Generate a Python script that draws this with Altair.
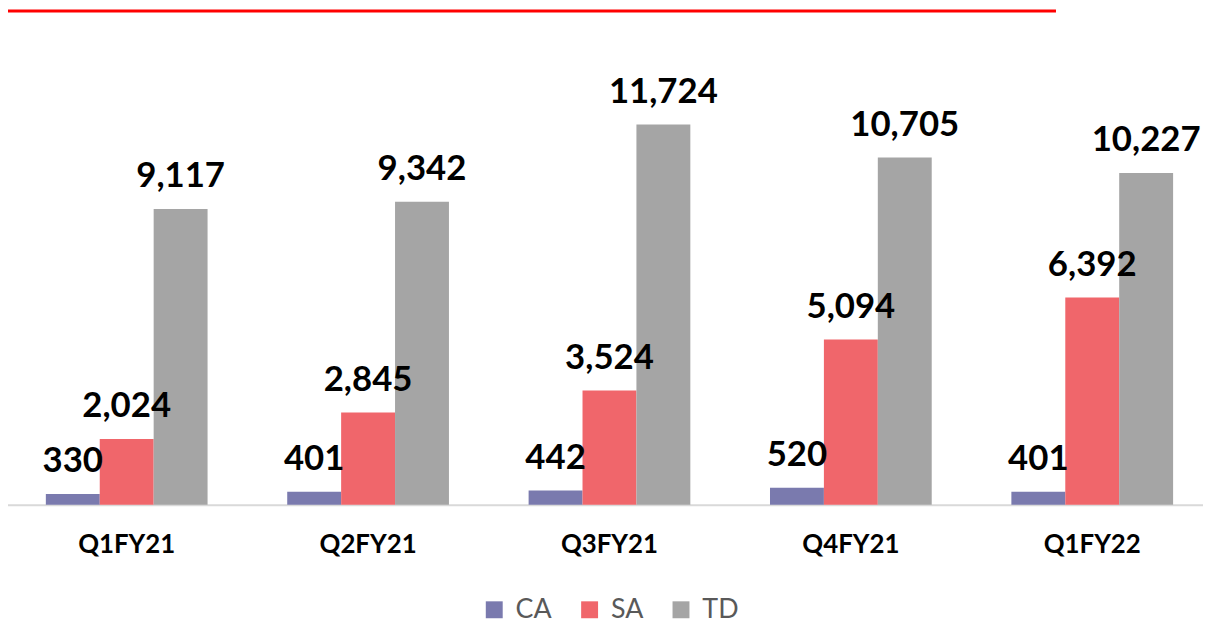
import altair as alt
import pandas as pd

quarters = ["Q1FY21", "Q2FY21", "Q3FY21", "Q4FY21", "Q1FY22"]
series = ["CA", "SA", "TD"]
ca = [330, 401, 442, 520, 401]
sa = [2024, 2845, 3524, 5094, 6392]
td = [9117, 9342, 11724, 10705, 10227]
colors = ["#7A7AAE", "#F0666B", "#A5A5A5"]

rows = []
for i, q in enumerate(quarters):
    for s, vals in zip(series, [ca, sa, td]):
        rows.append({"quarter": q, "series": s, "value": vals[i]})
df = pd.DataFrame(rows)

FONT = "Lato"

x = alt.X("quarter:N", sort=quarters, title=None,
          scale=alt.Scale(paddingInner=0.33, paddingOuter=0.165, range=[-2, 1213]),
          axis=alt.Axis(labelAngle=0, labelFont=FONT, labelFontSize=26, labelFontWeight="bold",
                        labelColor="#000000", labelPadding=27, ticks=False,
                        domainColor="#D9D9D9", domainWidth=2, grid=False))
y = alt.Y("value:Q", title=None, scale=alt.Scale(domain=[0, 15250], nice=False),
          axis=None)
xo = alt.XOffset("series:N", sort=series, scale=alt.Scale(paddingInner=0, paddingOuter=0))

bars = alt.Chart(df).mark_bar().encode(
    x=x, y=y, xOffset=xo,
    color=alt.Color("series:N", sort=series, title=None,
                    scale=alt.Scale(domain=series, range=colors),
                    legend=alt.Legend(orient="none", legendX=476, legendY=590, direction="horizontal",
                                      symbolType="square", symbolSize=290, symbolStrokeWidth=0,
                                      labelFont=FONT, labelFontSize=27, labelColor="#595959",
                                      labelOffset=8, columnPadding=24)),
)

labels = alt.Chart(df).mark_text(baseline="bottom", dy=-15, font=FONT, fontSize=35,
                                 fontWeight="bold", color="#000000").encode(
    x=x, y=y, xOffset=xo,
    text=alt.Text("value:Q", format=",")
)

redline = alt.Chart(pd.DataFrame({"a": [0]})).mark_rule(color="#FF0000", strokeWidth=3).encode(
    x=alt.value(-5), x2=alt.value(1055), y=alt.value(1)
)

chart = alt.layer(bars, labels, redline).properties(
    width=1203, height=498,
    padding={"left": 0, "top": 0, "right": 0, "bottom": 118},
    autosize=alt.AutoSizeParams(type="none")
).configure_view(stroke=None)

chart.save("out.html", embed_options={"renderer": "svg", "actions": False})
